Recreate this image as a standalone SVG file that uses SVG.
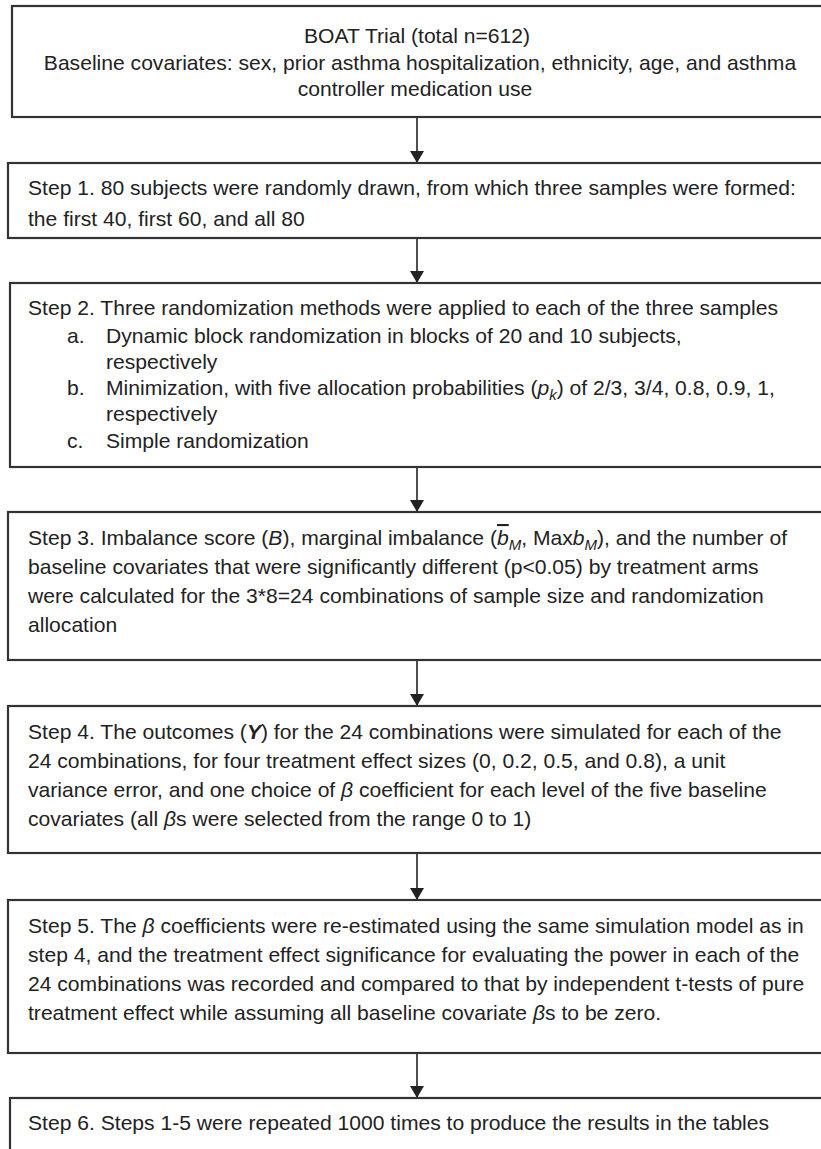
<svg xmlns="http://www.w3.org/2000/svg" width="821" height="1149" viewBox="0 0 821 1149">
<defs>
<marker id="ah" viewBox="0 0 12 14" refX="12" refY="7" markerWidth="12" markerHeight="14" markerUnits="userSpaceOnUse" orient="auto">
<path d="M0,0 L12,7 L0,14 Z" fill="#222"/>
</marker>
<style>
.box{fill:#fff;stroke:#333;stroke-width:2.2}
.t{font-family:"Liberation Sans",Arial,sans-serif;font-size:21.1px;fill:#222}
.c{text-anchor:middle}
.i{font-style:italic}
.sub{font-size:15px;font-style:italic}
.con{stroke:#222;stroke-width:1.6;fill:none;marker-end:url(#ah)}
</style>
</defs>
<rect width="821" height="1149" fill="#fff"/>
<g id="connectors">
<line class="con" x1="417" y1="117" x2="417" y2="163"/>
<line class="con" x1="417" y1="238" x2="417" y2="283"/>
<line class="con" x1="417" y1="467" x2="417" y2="512"/>
<line class="con" x1="417" y1="660" x2="417" y2="706"/>
<line class="con" x1="417" y1="853" x2="417" y2="900"/>
<line class="con" x1="417" y1="1053" x2="417" y2="1098"/>
</g>
<g id="node-boat">
<rect class="box" x="12" y="6" width="830" height="111"/>
<text class="t c" x="417" y="43">BOAT Trial (total n=612)</text>
<text class="t c" x="420" y="70">Baseline covariates: sex, prior asthma hospitalization, ethnicity, age, and asthma</text>
<text class="t c" x="415" y="96">controller medication use</text>
</g>
<g id="node-step1">
<rect class="box" x="8" y="163" width="830" height="75"/>
<text class="t" x="28" y="195">Step 1. 80 subjects were randomly drawn, from which three samples were formed:</text>
<text class="t" x="28" y="226">the first 40, first 60, and all 80</text>
</g>
<g id="node-step2">
<rect class="box" x="10" y="283" width="830" height="184"/>
<text class="t" x="28" y="315">Step 2. Three randomization methods were applied to each of the three samples</text>
<text class="t" x="67" y="343">a.</text>
<text class="t" x="106" y="343">Dynamic block randomization in blocks of 20 and 10 subjects,</text>
<text class="t" x="106" y="369">respectively</text>
<text class="t" x="67" y="395">b.</text>
<text class="t" x="106" y="395">Minimization, with five allocation probabilities (<tspan class="i">p</tspan><tspan class="sub" dy="5">k</tspan><tspan dy="-5">) of 2/3, 3/4, 0.8, 0.9, 1,</tspan></text>
<text class="t" x="106" y="421">respectively</text>
<text class="t" x="67" y="448">c.</text>
<text class="t" x="106" y="448">Simple randomization</text>
</g>
<g id="node-step3">
<rect class="box" x="8" y="512" width="830" height="148"/>
<text class="t" x="28" y="545">Step 3. Imbalance score (<tspan class="i">B</tspan>), marginal imbalance (<tspan class="i" style="text-decoration:overline">b</tspan><tspan class="sub" dy="5">M</tspan><tspan dy="-5">, Max</tspan><tspan class="i">b</tspan><tspan class="sub" dy="5">M</tspan><tspan dy="-5">), and the number of</tspan></text>
<text class="t" x="28" y="574">baseline covariates that were significantly different (p&lt;0.05) by treatment arms</text>
<text class="t" x="28" y="603">were calculated for the 3*8=24 combinations of sample size and randomization</text>
<text class="t" x="28" y="632">allocation</text>
</g>
<g id="node-step4">
<rect class="box" x="8" y="706" width="830" height="147"/>
<text class="t" x="28" y="739">Step 4. The outcomes (<tspan class="i" font-weight="bold">Y</tspan>) for the 24 combinations were simulated for each of the</text>
<text class="t" x="28" y="768">24 combinations, for four treatment effect sizes (0, 0.2, 0.5, and 0.8), a unit</text>
<text class="t" x="28" y="797">variance error, and one choice of <tspan class="i">β</tspan> coefficient for each level of the five baseline</text>
<text class="t" x="28" y="826">covariates (all <tspan class="i">β</tspan>s were selected from the range 0 to 1)</text>
</g>
<g id="node-step5">
<rect class="box" x="8" y="900" width="830" height="153"/>
<text class="t" x="28" y="933">Step 5. The <tspan class="i">β</tspan> coefficients were re-estimated using the same simulation model as in</text>
<text class="t" x="28" y="962">step 4, and the treatment effect significance for evaluating the power in each of the</text>
<text class="t" x="28" y="991">24 combinations was recorded and compared to that by independent t-tests of pure</text>
<text class="t" x="28" y="1020">treatment effect while assuming all baseline covariate <tspan class="i">β</tspan>s to be zero.</text>
</g>
<g id="node-step6">
<rect class="box" x="10" y="1098" width="830" height="80"/>
<text class="t" x="28" y="1130">Step 6. Steps 1-5 were repeated 1000 times to produce the results in the tables</text>
</g>
</svg>
